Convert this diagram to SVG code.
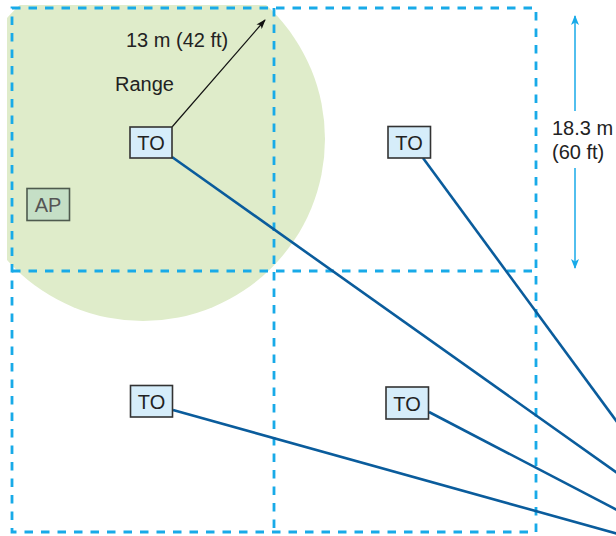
<svg xmlns="http://www.w3.org/2000/svg" width="616" height="536" viewBox="0 0 616 536">
<style>
.grid{fill:none;stroke:#18aae8;stroke-width:2.8;stroke-dasharray:8.5 8}
.to rect{fill:#d6edfa;stroke:#333;stroke-width:1.6}
.lbl{font-family:"Liberation Sans",Arial,sans-serif;fill:#222}
.link{stroke:#0a5c9c;stroke-width:2.6;fill:none}
</style>
<defs>
<clipPath id="clip"><rect x="7" y="5" width="400" height="400" rx="7"/></clipPath>
<marker id="ab" viewBox="0 0 10 7" refX="9" refY="3.5" markerWidth="10" markerHeight="7" markerUnits="userSpaceOnUse" orient="auto"><path d="M0,0 L10,3.5 L0,7 L2.5,3.5 z" fill="#111"/></marker>
<marker id="ac" viewBox="0 0 10 8" refX="9" refY="4" markerWidth="10" markerHeight="8" markerUnits="userSpaceOnUse" orient="auto-start-reverse"><path d="M0,0 L10,4 L0,8 L2.5,4 z" fill="#18aae8"/></marker>
</defs>
<g id="range">
<circle cx="143" cy="139" r="182" fill="#dfecca" clip-path="url(#clip)"/>
</g>
<g id="grid">
<rect class="grid" x="12" y="8" width="524" height="524"/>
<line class="grid" x1="274" y1="8" x2="274" y2="532"/>
<line class="grid" x1="12" y1="271" x2="536" y2="271"/>
</g>
<g id="connectors">
<line class="link" x1="172" y1="157" x2="620" y2="475"/>
<line class="link" x1="423" y1="158" x2="620" y2="426"/>
<line class="link" x1="173" y1="410" x2="620" y2="534.5"/>
<line class="link" x1="429" y1="412" x2="620" y2="511.5"/>
<line x1="172" y1="127" x2="265" y2="20" stroke="#111" stroke-width="1.2" marker-end="url(#ab)"/>
<line x1="575" y1="111" x2="575" y2="16" stroke="#18aae8" stroke-width="1.5" marker-end="url(#ac)"/>
<line x1="575" y1="168" x2="575" y2="268" stroke="#18aae8" stroke-width="1.5" marker-end="url(#ac)"/>
</g>
<g id="labels">
<text class="lbl" x="126" y="46.5" font-size="20">13 m (42 ft)</text>
<text class="lbl" x="115" y="90.5" font-size="20">Range</text>
<text class="lbl" x="552" y="135" font-size="20">18.3 m</text>
<text class="lbl" x="552" y="159" font-size="20">(60 ft)</text>
</g>
<g id="ap">
<rect x="27" y="188.5" width="42.5" height="32" fill="#c5dfc6" stroke="#4e5a4e" stroke-width="1.6"/>
<text class="lbl" x="48" y="212" font-size="20" text-anchor="middle" style="fill:#555">AP</text>
</g>
<g id="to1" class="to">
<rect x="130" y="127" width="42" height="31"/>
<text class="lbl" x="151" y="149.5" font-size="20" text-anchor="middle">TO</text>
</g>
<g id="to2" class="to">
<rect x="388" y="126.5" width="42.5" height="31.5"/>
<text class="lbl" x="409" y="149.5" font-size="20" text-anchor="middle">TO</text>
</g>
<g id="to3" class="to">
<rect x="130.5" y="385.5" width="42" height="31.5"/>
<text class="lbl" x="151.5" y="408.5" font-size="20" text-anchor="middle">TO</text>
</g>
<g id="to4" class="to">
<rect x="386" y="387" width="42.5" height="32"/>
<text class="lbl" x="407" y="410.5" font-size="20" text-anchor="middle">TO</text>
</g>
</svg>
